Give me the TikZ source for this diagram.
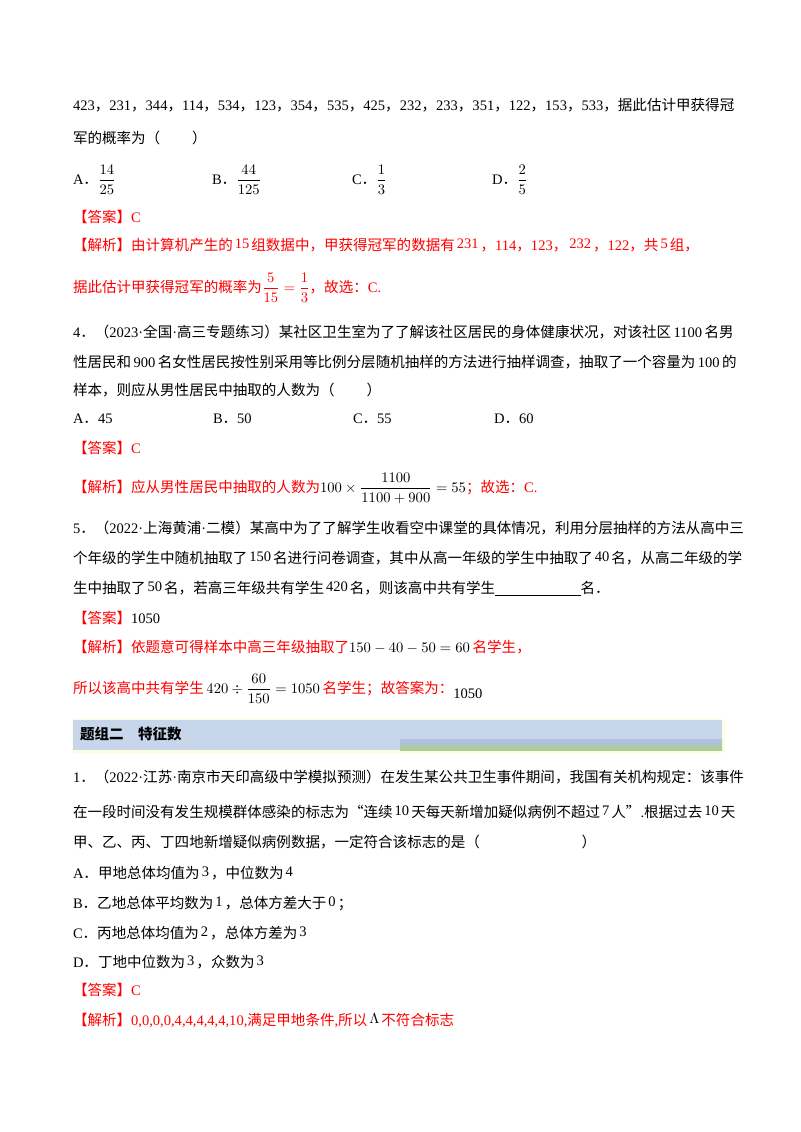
\documentclass[tikz,border=0pt]{standalone}
\usepackage{amsmath}
\usepackage{fontspec}
\setmainfont{Liberation Serif}
\newfontfamily\cjkf{Noto Sans CJK SC}
\newcommand\latinf{\rmfamily}
\XeTeXinterchartokenstate=1
\newXeTeXintercharclass\cjkcls
\count255="4E00 \loop \XeTeXcharclass\count255=\cjkcls \ifnum\count255<"9FFF \advance\count255 1 \repeat
\count255="3000 \loop \XeTeXcharclass\count255=\cjkcls \ifnum\count255<"303F \advance\count255 1 \repeat
\count255="FF00 \loop \XeTeXcharclass\count255=\cjkcls \ifnum\count255<"FFEF \advance\count255 1 \repeat
\XeTeXcharclass"201C=\cjkcls
\XeTeXcharclass"201D=\cjkcls
\XeTeXinterchartoks 0 \cjkcls = {\cjkf\hskip0pt plus 1pt}
\XeTeXinterchartoks \cjkcls 0 = {\hskip0pt plus 1pt\latinf}
\XeTeXinterchartoks \cjkcls \cjkcls = {\hskip0pt plus 1pt}
\XeTeXinterchartoks 4095 \cjkcls = {\cjkf}
\XeTeXinterchartoks \cjkcls 4095 = {\latinf}
\definecolor{ansred}{RGB}{255,0,0}
\definecolor{bandblue}{RGB}{200,214,236}
\definecolor{bandgreen}{RGB}{168,208,142}
\newcommand\jl[2]{\makebox[#1pt][s]{#2}}
\newcommand\up[1]{\hspace{1.5pt}\raisebox{1.5pt}{#1}\hspace{1.5pt}}
\begin{document}
\begin{tikzpicture}[x=0.75pt,y=-0.75pt,
  every node/.style={inner sep=0pt,outer sep=0pt,font=\fontsize{10.9pt}{13pt}\selectfont},
  txt/.style={anchor=base west},
  red/.style={anchor=base west,text=ansred}]
\useasboundingbox (0,0) rectangle (800,1132);
\fill[white] (0,0) rectangle (800,1132);
% problem 3 tail
\node[txt] (l1) at (73,110) {\jl{496}{423，231，344，114，534，123，354，535，425，232，233，351，122，153，533，据此估计甲获得冠}};
\node[txt] (l2) at (73,143) {军的概率为（\hspace{2.2em}）};
\node[txt] (oa) at (73,184) {A．$\dfrac{14}{25}$};
\node[txt] (ob) at (212,184) {B．$\dfrac{44}{125}$};
\node[txt] (oc) at (352,184) {C．$\dfrac{1}{3}$};
\node[txt] (od) at (492,184) {D．$\dfrac{2}{5}$};
\node[red] (a3) at (73,222) {【答案】C};
\node[red] (j3) at (73,250) {【解析】由计算机产生的\up{15}组数据中，甲获得冠军的数据有\up{231}，114，123，\up{232}，122，共\up{5}组，};
\node[red] (j3b) at (73,292) {据此估计甲获得冠军的概率为$\dfrac{5}{15}=\dfrac{1}{3}$，故选：C.};
% problem 4
\node[txt] (p4a) at (73,337) {\jl{489}{4．（2023·全国·高三专题练习）某社区卫生室为了了解该社区居民的身体健康状况，对该社区 1100 名男}};
\node[txt] (p4b) at (73,367) {\jl{489}{性居民和 900 名女性居民按性别采用等比例分层随机抽样的方法进行抽样调查，抽取了一个容量为 100 的}};
\node[txt] (p4c) at (73,395) {样本，则应从男性居民中抽取的人数为（\hspace{2.2em}）};
\node[txt] (p4oa) at (73,423) {A．45};
\node[txt] (p4ob) at (213,423) {B．50};
\node[txt] (p4oc) at (353,423) {C．55};
\node[txt] (p4od) at (494,423) {D．60};
\node[red] (a4) at (73,453) {【答案】C};
\node[red] (j4) at (73,492) {【解析】应从男性居民中抽取的人数为{\color{black}$100\times\dfrac{1100}{1100+900}=55$}；故选：C.};
% problem 5
\node[txt] (p5a) at (73,533) {\jl{493}{5．（2022·上海黄浦·二模）某高中为了了解学生收看空中课堂的具体情况，利用分层抽样的方法从高中三}};
\node[txt] (p5b) at (73,563) {\jl{493}{个年级的学生中随机抽取了\up{150}名进行问卷调查，其中从高一年级的学生中抽取了\up{40}名，从高二年级的学}};
\node[txt] (p5c) at (73,593) {生中抽取了\up{50}名，若高三年级共有学生\up{420}名，则该高中共有学生\underline{\hspace{64pt}}名．};
\node[red] (a5) at (73,623) {【答案】{\color{black}1050}};
\node[red] (j5) at (73,652) {【解析】依题意可得样本中高三年级抽取了{\color{black}$150-40-50=60$}\hspace{2pt}名学生，};
\node[red] (j5b) at (73,693) {所以该高中共有学生\hspace{2pt}{\color{black}$420\div\dfrac{60}{150}=1050$}\hspace{2pt}名学生；故答案为：{\color{black}\raisebox{-4pt}{1050}}};
% band
\fill[yellow!12] (72,719) rectangle (725,753);
\fill[bandblue] (73,720) rectangle (722,750);
\shade[top color=bandblue!85!blue!90!white, bottom color=bandgreen] (400,739) rectangle (722,750);
\node[txt,font=\fontsize{10.9pt}{13pt}\selectfont\bfseries] (band) at (80,739) {题组二\hspace{1em}特征数};
% group 2 problem 1
\node[txt] (q1a) at (73,782) {\jl{493}{1．（2022·江苏·南京市天印高级中学模拟预测）在发生某公共卫生事件期间，我国有关机构规定：该事件}};
\node[txt] (q1b) at (73,817) {\jl{487}{在一段时间没有发生规模群体感染的标志为“连续\up{10}天每天新增加疑似病例不超过\up{7}人”.根据过去\up{10}天}};
\node[txt] (q1c) at (73,847) {甲、乙、丙、丁四地新增疑似病例数据，一定符合该标志的是（\hspace{7em}）};
\node[txt] (q1oa) at (73,878) {A．甲地总体均值为\up{3}，中位数为\up{4}};
\node[txt] (q1ob) at (73,908) {B．乙地总体平均数为\up{1}，总体方差大于\up{0}；};
\node[txt] (q1oc) at (73,938) {C．丙地总体均值为\up{2}，总体方差为\up{3}};
\node[txt] (q1od) at (73,967) {D．丁地中位数为\up{3}，众数为\up{3}};
\node[red] (a6) at (73,995) {【答案】C};
\node[red] (j6) at (73,1025) {【解析】0,0,0,0,4,4,4,4,4,10,满足甲地条件,所以{\color{black}\up{$\Lambda$}}不符合标志};
\end{tikzpicture}
\end{document}
